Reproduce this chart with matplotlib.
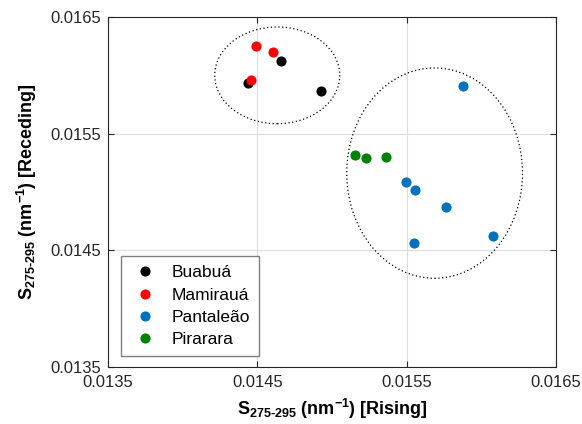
import matplotlib
matplotlib.use("Agg")
import matplotlib.pyplot as plt
from matplotlib.patches import Ellipse

plt.rcParams['font.family'] = ['Liberation Sans', 'DejaVu Sans']
plt.rcParams['mathtext.fontset'] = 'custom'
plt.rcParams['mathtext.rm'] = 'Liberation Sans:bold'
plt.rcParams['mathtext.it'] = 'Liberation Sans:bold'
plt.rcParams['mathtext.bf'] = 'Liberation Sans:bold'

# dados por local: S275-295 na cheia (x) e na vazante (y)
sites = ["Buabuá", "Mamirauá", "Pantaleão", "Pirarara"]
colors = ["#000000", "#ff0000", "#0072bd", "#008000"]

buabua_x = [0.014439, 0.014661, 0.014925]
buabua_y = [0.015936, 0.016124, 0.015868]
mamiraua_x = [0.014493, 0.014602, 0.014459]
mamiraua_y = [0.016252, 0.016201, 0.015962]
pantaleao_x = [0.015874, 0.015493, 0.015554, 0.015765, 0.016078, 0.015547]
pantaleao_y = [0.015910, 0.015090, 0.015013, 0.014868, 0.014620, 0.014560]
pirarara_x = [0.015153, 0.015228, 0.015364]
pirarara_y = [0.015320, 0.015295, 0.015303]

xs = [buabua_x, mamiraua_x, pantaleao_x, pirarara_x]
ys = [buabua_y, mamiraua_y, pantaleao_y, pirarara_y]

ticks = [0.0135, 0.0145, 0.0155, 0.0165]
tick_labels = ["0.0135", "0.0145", "0.0155", "0.0165"]

fig = plt.figure(figsize=(5.82, 4.24), dpi=100)
ax = fig.add_axes([0.1856, 0.1344, 0.7698, 0.8255])

for nome, cor, x, y in zip(sites, colors, xs, ys):
    ax.plot(x, y, 'o', color=cor, markersize=7.3, markeredgewidth=0, label=nome, zorder=3)

# elipses de agrupamento
ax.add_patch(Ellipse((0.014633, 0.016000), 0.000837, 0.000829, fill=False,
                     edgecolor='black', linestyle=(0, (1, 2)), linewidth=0.9, zorder=2))
ax.add_patch(Ellipse((0.015687, 0.015162), 0.001177, 0.001803, fill=False,
                     edgecolor='black', linestyle=(0, (1, 2)), linewidth=0.9, zorder=2))

ax.set_xlim(0.0135, 0.0165)
ax.set_ylim(0.0135, 0.0165)
ax.set_xticks(ticks)
ax.set_xticklabels(tick_labels)
ax.set_yticks(ticks)
ax.set_yticklabels(tick_labels)
ax.tick_params(direction='in', length=4, labelsize=12, colors='#262626', top=True, right=True,
               labeltop=False, labelright=False)
ax.tick_params(axis='x', pad=6)
ax.tick_params(axis='y', pad=5)
ax.grid(True, color='#dcdcdc', linewidth=0.8, zorder=0)
ax.set_axisbelow(True)
for s in ax.spines.values():
    s.set_color('#262626')
    s.set_linewidth(0.8)

ax.set_xlabel(r'S$_{275\text{-}295}$ (nm$^{-1}$) [Rising]', fontsize=13, fontweight='bold', labelpad=5)
ax.set_ylabel(r'S$_{275\text{-}295}$ (nm$^{-1}$) [Receding]', fontsize=13, fontweight='bold', labelpad=8)

leg = ax.legend(loc='lower left', bbox_to_anchor=(0.029, 0.031), borderaxespad=0, fontsize=12.5,
                fancybox=False, framealpha=1, edgecolor='#7f7f7f', handletextpad=0.6,
                borderpad=0.5, labelspacing=0.42, handlelength=1.8)
leg.get_frame().set_linewidth(1.0)

fig.savefig("out.png", dpi=100)
